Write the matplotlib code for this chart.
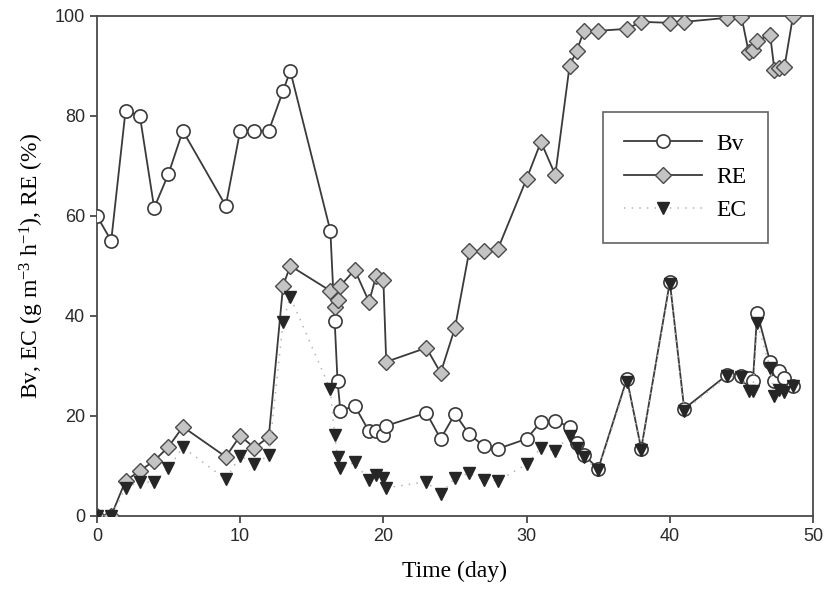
import matplotlib
matplotlib.use("Agg")
import matplotlib.pyplot as plt

plt.rcParams['mathtext.fontset'] = 'custom'
plt.rcParams['mathtext.rm'] = 'Liberation Serif'
plt.rcParams['mathtext.it'] = 'Liberation Serif:italic'

# Time (day)
days = [0, 1, 2, 3, 4, 5, 6, 9, 10, 11, 12, 13, 13.5, 16.3, 16.6, 16.8, 17, 18,
        19, 19.5, 20, 20.2, 23, 24, 25, 26, 27, 28, 30, 31, 32, 33, 33.5, 34, 35,
        37, 38, 40, 41, 44, 45, 45.5, 45.8, 46.1, 47, 47.3, 47.6, 48, 48.6]

# Bv (g m-3 h-1)
bv = [60, 55, 81, 80, 61.6, 68.4, 77, 62, 77, 77, 77, 85, 89, 57, 39, 27, 21, 22,
      16.9, 16.9, 16.2, 18, 20.6, 15.4, 20.4, 16.3, 14, 13.4, 15.4, 18.8, 19, 17.8, 14.6, 12.2, 9.4,
      27.4, 13.4, 46.8, 21.4, 28.2, 28, 27.5, 27, 40.6, 30.8, 27, 29, 27.6, 26]

# RE (%)
re = [0, 0, 7, 9, 11, 13.8, 17.8, 11.8, 16, 13.6, 15.8, 46, 50, 45, 41.8, 43.2, 46, 49.2,
      42.8, 48, 47.2, 30.8, 33.6, 28.6, 37.6, 53, 53, 53.4, 67.4, 74.8, 68.2, 90, 93, 97, 97,
      97.4, 98.8, 98.6, 98.8, 99.6, 99.8, 92.8, 93.2, 95, 96.2, 89.2, 89.6, 89.8, 100]

# EC (g m-3 h-1)
ec = [0, 0, 5.6, 6.8, 6.7, 9.5, 13.7, 7.3, 12, 10.3, 12.1, 38.8, 43.8, 25.3, 16.2, 11.8, 9.5, 10.7,
      7.1, 8.1, 7.6, 5.6, 6.8, 4.3, 7.6, 8.5, 7.2, 7.0, 10.3, 13.6, 13, 16, 13.6, 11.7, 9.1,
      26.8, 13.2, 46.3, 21, 27.9, 27.8, 25, 25, 38.6, 29.6, 24, 25.2, 24.8, 26]

fig = plt.figure(figsize=(8.28, 6.09), dpi=100)
ax = fig.add_axes([0.117, 0.153, 0.865, 0.821])

ax.plot(days, bv, '-', color='#3a3a3a', linewidth=1.3,
        marker='o', markersize=9.5, markerfacecolor='white', markeredgecolor='#3a3a3a',
        markeredgewidth=1.2, label='Bv', zorder=3)
ax.plot(days, re, '-', color='#3a3a3a', linewidth=1.3,
        marker='D', markersize=8, markerfacecolor='#c4c4c4', markeredgecolor='#4a4a4a',
        markeredgewidth=1.0, label='RE', zorder=4)
ax.plot(days, ec, linestyle=(0, (1, 4)), color='#b5b5b5', linewidth=1.1,
        marker='v', markersize=9, markerfacecolor='#262626', markeredgecolor='#262626',
        label='EC', zorder=5)

ax.set_xlim(0, 50)
ax.set_ylim(0, 100)
ax.set_xticks([0, 10, 20, 30, 40, 50])
ax.set_yticks([0, 20, 40, 60, 80, 100])
ax.tick_params(direction='out', length=5, width=1.2, colors='#3a3a3a', labelsize=13,
               labelcolor='#2a2a2a')
for lab in ax.get_xticklabels() + ax.get_yticklabels():
    lab.set_fontfamily('Liberation Sans')
for sp in ax.spines.values():
    sp.set_color('#4a4a4a')
    sp.set_linewidth(1.3)

ax.set_xlabel('Time (day)', fontsize=17, family='Liberation Serif', labelpad=12)
ax.set_ylabel(r'Bv, EC (g m$^{-3}$ h$^{-1}$), RE (%)', fontsize=17,
              family='Liberation Serif', labelpad=6)

leg = ax.legend(loc='upper left', bbox_to_anchor=(0.707, 0.808),
                prop={'family': 'Liberation Serif', 'size': 17},
                frameon=True, fancybox=False, handlelength=3.3, handletextpad=0.6,
                labelspacing=0.5, borderpad=0.9, borderaxespad=0)
leg.get_frame().set_edgecolor('#3a3a3a')
leg.get_frame().set_linewidth(1.2)

plt.savefig('out.png', dpi=100)
